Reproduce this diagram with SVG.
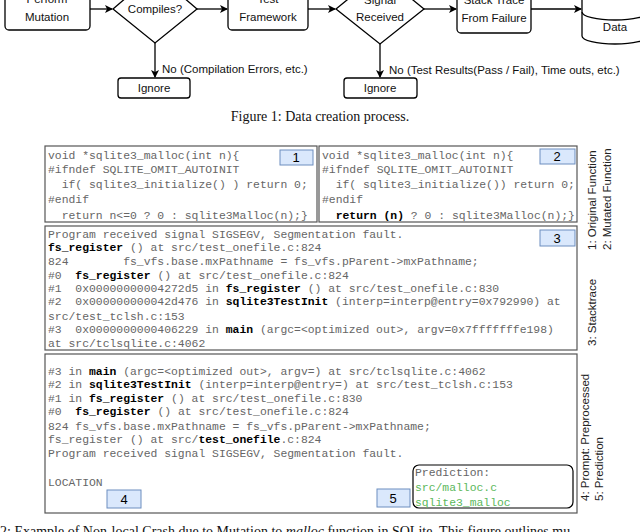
<svg xmlns="http://www.w3.org/2000/svg" width="640" height="532" viewBox="0 0 640 532">
<style>
.n{fill:#fff;stroke:#000;stroke-width:1.3}
.s{font-family:"Liberation Sans",Arial,sans-serif;font-size:11.5px;fill:#111}
.c{stroke:#000;stroke-width:1.3;fill:none}
.m{font-family:"Liberation Mono","Courier New",monospace;fill:#666;font-size:11.4px}
.b{font-weight:bold;fill:#000}
.box{fill:#fff;stroke:#555;stroke-width:1.2}
.num{fill:#dae8fc;stroke:#6c8ebf;stroke-width:1}
.nt{font-family:"Liberation Sans",Arial,sans-serif;font-size:13px;fill:#000;text-anchor:middle}
.r{font-family:"Liberation Sans",Arial,sans-serif;font-size:11.5px;fill:#222}
.g{fill:#5cb85c}
.cap{font-family:"Liberation Serif","Times New Roman",serif;font-size:14px;fill:#111}
</style>
<defs><marker id="a" markerWidth="8" markerHeight="8" refX="7" refY="4" orient="auto" markerUnits="userSpaceOnUse"><path d="M0,0L8,4L0,8L2,4z" fill="#000"/></marker></defs>
<g id="perform"><rect class="n" x="5" y="-12" width="85" height="42" rx="4"/><text class="s" x="47" y="3" text-anchor="middle">Perform</text><text class="s" x="47" y="21" text-anchor="middle">Mutation</text></g>
<g id="compiles"><path class="n" d="M155,-27L197,9L155,43L113,9z"/><text class="s" x="155" y="13" text-anchor="middle">Compiles?</text></g>
<g id="test"><rect class="n" x="228" y="-12" width="80" height="42" rx="4"/><text class="s" x="268" y="3" text-anchor="middle">Test</text><text class="s" x="268" y="21" text-anchor="middle">Framework</text></g>
<g id="signal"><path class="n" d="M380,-27L424,9L380,44L336,9z"/><text class="s" x="380" y="4" text-anchor="middle">Signal</text><text class="s" x="380" y="21" text-anchor="middle">Received</text></g>
<g id="stack"><rect class="n" x="457" y="-12" width="74" height="45" rx="4"/><text class="s" x="494" y="4" text-anchor="middle">Stack Trace</text><text class="s" x="494" y="22" text-anchor="middle">From Failure</text></g>
<g id="data"><path class="n" d="M582,-20V36A33,8 0 0 0 648,36V-20"/><path class="c" d="M582,12A33,8 0 0 0 648,12"/><text class="s" x="615" y="31" text-anchor="middle">Data</text></g>
<g id="ignore1"><rect class="n" x="118" y="78" width="72" height="20" rx="3"/><text class="s" x="154" y="92" text-anchor="middle">Ignore</text></g>
<g id="ignore2"><rect class="n" x="344" y="78" width="73" height="20" rx="3"/><text class="s" x="380" y="92" text-anchor="middle">Ignore</text></g>
<g id="connectors">
<path class="c" d="M90,9H112" marker-end="url(#a)"/>
<path class="c" d="M197,9H227" marker-end="url(#a)"/>
<path class="c" d="M308,9H335" marker-end="url(#a)"/>
<path class="c" d="M424,9H456" marker-end="url(#a)"/>
<path class="c" d="M531,9H581" marker-end="url(#a)"/>
<path class="c" d="M155,43V77" marker-end="url(#a)"/>
<path class="c" d="M380,44V77" marker-end="url(#a)"/>
<text class="s" x="162" y="73">No (Compilation Errors, etc.)</text>
<text class="s" x="389" y="74">No (Test Results(Pass / Fail), Time outs, etc.)</text>
</g>
<text class="cap" x="320" y="121" text-anchor="middle">Figure 1: Data creation process.</text>

<g id="box1"><rect class="box" x="45" y="146" width="272" height="76"/>
<g class="m">
<text x="48" y="159">void *sqlite3_malloc(int n){</text>
<text x="48" y="173">#ifndef SQLITE_OMIT_AUTOINIT</text>
<text x="48" y="188" xml:space="preserve">  if( sqlite3_initialize() ) return 0;</text>
<text x="48" y="203">#endif</text>
<text x="48" y="219" xml:space="preserve">  return n&lt;=0 ? 0 : sqlite3Malloc(n);}</text>
</g><rect class="num" x="280" y="150" width="33" height="15"/><text class="nt" x="296" y="162">1</text></g>
<g id="box2"><rect class="box" x="319" y="146" width="258" height="76"/>
<g class="m">
<text x="322" y="159">void *sqlite3_malloc(int n){</text>
<text x="322" y="173">#ifndef SQLITE_OMIT_AUTOINIT</text>
<text x="322" y="188" xml:space="preserve">  if( sqlite3_initialize()) return 0;</text>
<text x="322" y="203">#endif</text>
<text x="322" y="219" xml:space="preserve">  <tspan class="b">return (n)</tspan> ? 0 : sqlite3Malloc(n);}</text>
</g><rect class="num" x="540" y="149" width="35" height="15"/><text class="nt" x="557" y="161">2</text></g>
<g id="box3"><rect class="box" x="45" y="226" width="532" height="124"/>
<g class="m">
<text x="48" y="238">Program received signal SIGSEGV, Segmentation fault.</text>
<text x="48" y="251"><tspan class="b">fs_register</tspan> () at src/test_onefile.c:824</text>
<text x="48" y="265" xml:space="preserve">824        fs_vfs.base.mxPathname = fs_vfs.pParent-&gt;mxPathname;</text>
<text x="48" y="279" xml:space="preserve">#0  <tspan class="b">fs_register</tspan> () at src/test_onefile.c:824</text>
<text x="48" y="292" xml:space="preserve">#1  0x00000000004272d5 in <tspan class="b">fs_register</tspan> () at src/test_onefile.c:830</text>
<text x="48" y="305" xml:space="preserve">#2  0x000000000042d476 in <tspan class="b">sqlite3TestInit</tspan> (interp=interp@entry=0x792990) at</text>
<text x="48" y="320">src/test_tclsh.c:153</text>
<text x="48" y="333" xml:space="preserve">#3  0x0000000000406229 in <tspan class="b">main</tspan> (argc=&lt;optimized out&gt;, argv=0x7fffffffe198)</text>
<text x="48" y="347">at src/tclsqlite.c:4062</text>
</g><rect class="num" x="540" y="230" width="35" height="16"/><text class="nt" x="557" y="243">3</text></g>
<g id="box4"><rect class="box" x="45" y="354" width="532" height="159"/>
<g class="m">
<text x="48" y="375">#3 in <tspan class="b">main</tspan> (argc=&lt;optimized out&gt;, argv=) at src/tclsqlite.c:4062</text>
<text x="48" y="388">#2 in <tspan class="b">sqlite3TestInit</tspan> (interp=interp@entry=) at src/test_tclsh.c:153</text>
<text x="48" y="402">#1 in <tspan class="b">fs_register</tspan> () at src/test_onefile.c:830</text>
<text x="48" y="415" xml:space="preserve">#0  <tspan class="b">fs_register</tspan> () at src/test_onefile.c:824</text>
<text x="48" y="430">824 fs_vfs.base.mxPathname = fs_vfs.pParent-&gt;mxPathname;</text>
<text x="48" y="443">fs_register () at src/<tspan class="b">test_onefile</tspan>.c:824</text>
<text x="48" y="457">Program received signal SIGSEGV, Segmentation fault.</text>
<text x="48" y="486">LOCATION</text>
</g>
<rect class="num" x="107" y="490" width="34" height="18"/><text class="nt" x="124" y="504">4</text>
<rect class="num" x="377" y="489" width="33" height="18"/><text class="nt" x="393" y="503">5</text>
<rect x="413" y="465" width="160" height="43" rx="6" fill="none" stroke="#000" stroke-width="1.2"/>
<g class="m"><text x="415" y="476">Prediction:</text><text class="g" x="415" y="491">src/malloc.c</text><text class="g" x="415" y="506">sqlite3_malloc</text></g>
</g>
<g id="side-labels">
<text class="r" transform="translate(596,250) rotate(-90)">1: Original Function</text>
<text class="r" transform="translate(611,250) rotate(-90)">2: Mutated Function</text>
<text class="r" transform="translate(596,346) rotate(-90)">3: Stacktrace</text>
<text class="r" transform="translate(589,501) rotate(-90)">4: Prompt:  Preprocessed</text>
<text class="r" transform="translate(603,501) rotate(-90)">5: Prediction</text>
</g>
<text class="cap" x="0" y="536" font-size="15">2: Example of Non-local Crash due to Mutation to <tspan font-style="italic">malloc</tspan> function in SQLite. This figure outlines mu</text>
</svg>
